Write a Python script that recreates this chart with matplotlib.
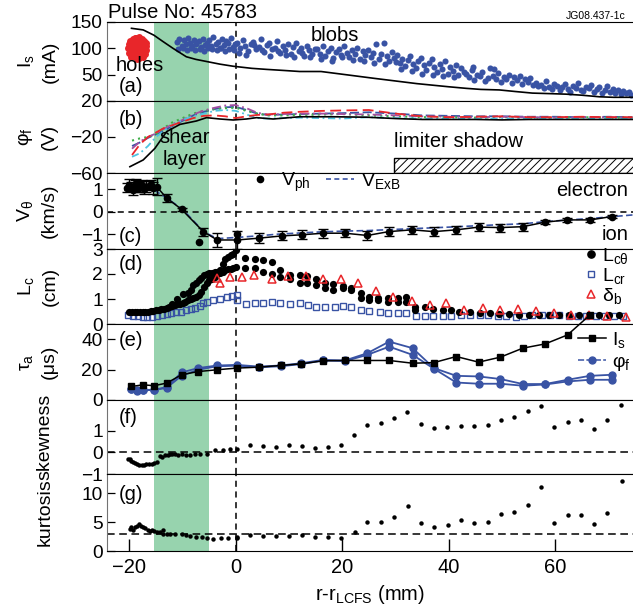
import numpy as np
import matplotlib
matplotlib.use("Agg")
import matplotlib.pyplot as plt
from matplotlib.lines import Line2D
from matplotlib.patches import Rectangle

plt.rcParams['font.family'] = ['Liberation Sans', 'DejaVu Sans']
plt.rcParams['mathtext.fontset'] = 'custom'
plt.rcParams['mathtext.rm'] = 'Liberation Sans'
plt.rcParams['mathtext.it'] = 'Liberation Sans:italic'
plt.rcParams['mathtext.bf'] = 'Liberation Sans:bold'
plt.rcParams['hatch.linewidth'] = 0.7

BLUE = '#3953a4'
RED = '#e8262a'
BAND = '#97d3ae'

shear_lo, shear_hi = -15.4, -5.1
limiter_start = 29.7

# (a) Is (mA)
is_x = [-19.6, -17.4, -15.4, -13.7, -11.8, -9.3, -7.5, -5.5, -3, -0.5, 3, 5.8, 9, 12, 16,
        21.4, 26, 30.8, 34, 37, 40, 43.3, 46, 49.5, 52.5, 55.7, 59, 62, 65, 68.3, 71, 74.5]
is_y = [138, 135, 125, 113, 100, 84, 79, 75, 70, 66, 62, 60, 58, 56, 56,
        49, 43, 37, 33, 30, 27, 24, 22, 21, 18, 15, 14, 13, 11, 8, 7, 7]

holes_x = [-20.2, -20.1, -19.9, -19.8, -19.7, -19.6, -19.5, -19.4, -19.3, -19.2, -19.1, -19.0,
           -18.9, -18.8, -18.7, -18.6, -18.5, -18.4, -18.3, -18.2, -18.1, -18.0, -17.9, -17.8,
           -17.7, -17.6, -17.5, -17.4, -17.3, -17.2, -17.1, -17.0, -16.9, -16.8, -18.5, -19.0,
           -18.2, -17.5, -19.6, -20.0, -16.9, -18.8, -17.8]
holes_y = [100, 108, 95, 114, 103, 90, 110, 98, 117, 85, 105, 93,
           112, 100, 120, 88, 107, 96, 115, 82, 103, 92, 110, 99,
           118, 87, 106, 95, 113, 101, 90, 108, 97, 104, 80, 119,
           121, 84, 84, 91, 111, 94, 115]

blob_x = ([-11.0, -10.6, -10.2, -9.8, -9.4, -9.0, -8.6, -8.2, -7.8, -7.4, -7.0, -6.6, -6.2, -5.8,
           -5.4, -5.0, -4.6, -4.2, -3.8, -3.4, -3.0, -2.6, -2.2, -1.8, -1.4, -1.0, -0.6, -0.2]
          + [-10.8, -10.0, -9.2, -8.4, -7.6, -6.8, -6.0, -5.2, -4.4, -3.6, -2.8, -2.0, -1.2, -0.4]
          + [0.3, 0.8, 1.3, 1.8, 2.3, 2.8, 3.3, 3.8, 4.3, 4.8, 5.3, 5.8, 6.3, 6.8, 7.3, 7.8, 8.3,
             8.8, 9.3, 9.8, 10.3, 10.8, 11.3, 11.8, 12.3, 12.8, 13.3, 13.8, 14.3, 14.8]
          + [0.6, 2.0, 3.5, 5.0, 6.5, 8.0, 9.5, 11.0, 12.5, 14.0]
          + [15.3, 15.8, 16.3, 16.8, 17.3, 17.8, 18.3, 18.8, 19.3, 19.8, 20.3, 20.8, 21.3, 21.8,
             22.3, 22.8, 23.3, 23.8, 24.3, 24.8, 25.3, 25.8, 26.3, 26.8, 27.3, 27.8, 28.3, 28.8,
             29.3, 29.8]
          + [16, 18, 20, 22, 24, 26, 28, 30]
          + [30.3, 30.8, 31.3, 31.8, 32.3, 32.8, 33.3, 33.8, 34.3, 34.8, 35.3, 35.8, 36.3, 36.8,
             37.3, 37.8, 38.3, 38.8, 39.3, 39.8, 40.3, 40.8, 41.3, 41.8, 42.3, 42.8]
          + [31, 33, 35, 37, 39, 41]
          + [43.3, 43.8, 44.3, 44.8, 45.3, 45.8, 46.3, 46.8, 47.3, 47.8, 48.3, 48.8, 49.3, 49.8,
             50.3, 50.8, 51.3, 51.8, 52.3, 52.8, 53.3, 53.8, 54.3, 54.8, 55.3, 55.8, 48.5, 44.5]
          + [56.3, 56.8, 57.3, 57.8, 58.3, 58.8, 59.3, 59.8, 60.3, 60.8, 61.3, 61.8, 62.3, 62.8,
             63.3, 63.8, 64.3, 64.8, 65.3, 65.8, 66.3, 66.8, 67.3, 67.8, 68.3, 68.8, 69.3, 69.8,
             70.3, 70.8, 71.3, 71.8, 72.3, 72.8, 73.3, 73.8, 74.3])
blob_y = ([112, 118, 105, 115, 108, 120, 110, 104, 116, 109, 113, 102, 118, 107,
           111, 115, 104, 121, 108, 112, 100, 117, 106, 113, 110, 119, 103, 108]
          + [98, 101, 96, 100, 97, 99, 95, 101, 98, 96, 100, 94, 99, 97]
          + [110, 100, 116, 104, 95, 108, 112, 98, 103, 117, 93, 106, 110, 99, 101, 113, 92,
             105, 97, 109, 89, 102, 111, 94, 100, 86, 104, 96, 90, 99]
          + [92, 88, 106, 97, 85, 95, 88, 84, 92, 83]
          + [98, 90, 104, 86, 95, 101, 82, 93, 99, 88, 105, 91, 84, 96,
             89, 100, 80, 94, 87, 97, 83, 92, 108, 79, 89, 111, 85, 76, 93, 82]
          + [80, 76, 83, 78, 75, 72, 70, 74]
          + [88, 72, 80, 66, 77, 85, 70, 62, 75, 82, 68, 58, 73, 79,
             64, 55, 70, 60, 76, 52, 65, 57, 68, 50, 62, 55]
          + [60, 57, 52, 49, 47, 45]
          + [52, 45, 58, 40, 50, 47, 55, 38, 44, 62, 48, 41, 53, 36,
             46, 42, 50, 34, 45, 39, 48, 33, 42, 37, 44, 31, 60, 64]
          + [35, 28, 31, 24, 38, 27, 22, 33, 29, 20, 26, 32, 23, 18,
             28, 25, 34, 21, 19, 27, 24, 30, 17, 22, 26, 15, 20, 28,
             18, 23, 16, 21, 13, 19, 15, 17, 12])

# (b) floating potential (V)
phi_x = [-19.5, -18, -16.5, -15, -13.5, -12, -10, -8, -6, -4, -2, 0, 2, 4, 6, 9, 12, 16, 20,
         25, 30, 35, 40, 45, 50, 55, 60, 65, 70, 74.5]
phi_blue = [-30, -26, -21, -17, -13, -8, -2, 4, 8, 11, 13, 13.5, 10, 6, 4.5, 5, 5.5, 6, 6.5,
            7.5, 6, 4, 3.5, 3, 3, 2.5, 2.5, 2, 2.5, 2]
phi_red = [-40, -28, -20, -15, -10, -7, -3, 1, 3.5, 4, 3, 1, 3, 4.5, 5, 7, 8, 9, 9.5,
           10, 6, 3, 2, 2.5, 3, 2, 2, 2.5, 2, 2]
phi_green = [-24, -21.5, -20, -17, -10, -4, 1, 6, 9, 11, 12, 12.5, 9, 6, 4, 4, 4.5, 5, 5.5,
             4, 3, 2, 2, 1.5, 2, 1.5, 1.5, 2, 1.5, 1.5]
phi_magenta = [-33, -25, -20, -16, -11, -6, -1, 5, 9.5, 12.5, 15, 15.5, 12, 7, 5, 5.5, 6, 6,
               5.5, 5, 4, 3, 2.5, 2, 2.5, 2, 1.5, 2, 2, 1.5]
phi_cyan = [-42, -38, -30, -20, -13, -7, -1, 3, 6, 9, 10, 9, 5, 1, 0.5, 1, 1.5, 1, 0.5,
            2, 1, 0.5, 0.5, 0, 0.5, 0, 0.5, 0, 0.5, 0]
phi_blk_x = [-19.9, -17.4, -15.2, -13, -10.5, -7.4, -5.5, -3, -0.5, 2, 3.9, 7, 12, 18.3, 24.5,
             30, 35, 40, 45, 50, 55, 60, 65, 70, 74.5]
phi_blk = [-53, -45.5, -32.6, -14, -6, -2.2, 1.5, 0, -1.1, 0, 1.5, 0, 2.5, 2.5, 2.0,
           0.5, -0.5, -0.5, -0.5, -1, -0.5, -0.5, -0.5, -0.5, -0.5]

# (c) poloidal velocity (km/s)
vph_x = [-20.4, -20.0, -19.7, -19.4, -19.0, -18.7, -18.3, -18.0, -17.6, -17.2, -16.8, -16.4,
         -16.0, -15.6, -14.9, -13.0, -10.2, -6.1, -3.5, 0.25, 4.3, 8.6, 12.4, 16.4, 20.5, 24.7,
         28.7, 33.1, 37.2, 41.4, 45.6, 49.7, 53.9, 58.1, 62.2, 66.6, 70.6]
vph_v = [1.05, 1.2, 1.1, 0.95, 1.15, 1.25, 1.05, 1.1, 1.2, 1.0, 1.1, 1.15,
         1.2, 1.05, 1.11, 0.6, 0.1, -0.89, -1.26, -1.26, -1.18, -1.08, -1.03, -0.96, -0.96, -1.06,
         -0.89, -0.81, -0.89, -0.81, -0.69, -0.71, -0.67, -0.47, -0.37, -0.37, -0.22]
vph_err = [0.2, 0.25, 0.2, 0.2, 0.25, 0.2, 0.2, 0.25, 0.2, 0.2, 0.25, 0.2,
           0.2, 0.25, 0.37, 0.18, 0.08, 0.18, 0.33, 0.4, 0.22, 0.2, 0.2, 0.2, 0.18, 0.2,
           0.2, 0.18, 0.2, 0.18, 0.18, 0.18, 0.18, 0.1, 0.1, 0.1, 0.05]
vph_extra_x = [-6.9, 0.2]
vph_extra_v = [-1.35, -0.99]
vexb_x = [-19, -16, -13, -10, -6, -3.5, 0, 4, 8, 12, 16, 20, 25, 29, 33, 37, 41, 46, 50, 54,
          58, 62, 67, 71, 74.5]
vexb_v = [1.1, 1.05, 0.6, 0.1, -0.9, -1.2, -1.15, -1.08, -1.0, -0.95, -0.9, -0.87, -0.84,
          -0.8, -0.76, -0.72, -0.68, -0.62, -0.58, -0.54, -0.45, -0.38, -0.3, -0.22, -0.15]

# (d) correlation lengths (cm)
lct_lo_x = [-20.0, -19.5, -19.0, -18.5, -18.0, -17.5, -17.0, -16.5, -16.0, -15.5, -15.0, -14.5,
            -14.0, -13.5, -13.0, -12.5, -12.0, -11.5, -11.0, -10.5, -10.0, -9.5, -9.0, -8.5,
            -8.0, -7.5, -7.0, -6.5, -6.0, -5.5, -5.0, -4.5, -4.0, -3.5, -3.0, -2.5, -2.0, -1.5,
            -1.0, -0.5, 0.0]
lct_lo = [0.48, 0.48, 0.49, 0.49, 0.5, 0.5, 0.5, 0.5, 0.52, 0.53, 0.55, 0.57,
          0.6, 0.62, 0.66, 0.7, 0.72, 0.76, 0.8, 0.82, 0.86, 0.9, 0.95, 1.0,
          1.05, 1.1, 1.15, 1.3, 1.5, 1.65, 1.75, 1.8, 1.9, 2.0, 2.05, 2.1, 2.15, 2.2,
          2.2, 2.25, 2.3]
lct_up_x = [-12, -11, -10, -9, -8.5, -8, -7.5, -7, -6.5, -6, -5.5, -5,
            -4.5, -4, -3.5, -3, -2.5, -2, -1.5, -1, -0.5, 0]
lct_up = [0.8, 1.0, 1.2, 1.25, 1.35, 1.55, 1.65, 1.75, 1.85, 1.95, 2.0, 2.05,
          2.05, 2.1, 2.1, 2.15, 2.4, 2.6, 2.7, 2.75, 2.8, 2.95]
lct_r_x = [1.7, 3.6, 5.1, 6.7, 8.3, 10.1, 12.0, 13.3, 15.1, 16.7, 18.3, 20.1, 21.7, 23.6, 25.1,
           26.7, 28.6, 30.5, 32.0, 33.6, 35.5, 37.0, 38.9, 40.5, 42.0, 43.9, 45.8, 47.7, 49.5,
           51.4, 53.2, 55.1, 57.0, 58.8, 60.7, 62.6, 64.5, 66.3, 68.2, 70.0, 72.0]
lct_r_up = [2.63, 2.59, 2.56, 2.49, 2.16, 1.96, 1.96, 1.92, 1.79, 1.63, 1.6, 1.52, 1.43, 1.23,
            1.09, 1.03, 1.05, 1.03, 1.07, 0.69, 0.69, 0.59, 0.56, 0.56, 0.49, 0.49, 0.45, 0.43,
            0.42, 0.4, 0.38, 0.37, 0.38, 0.38, 0.38, 0.38, 0.38, 0.36, 0.38, 0.36, 0.35]
lct_r_lo = [2.23, 2.25, 2.1, 2.0, 1.9, 1.8, 1.65, 1.63, 1.56, 1.45, 1.36, 1.43, 1.36, 1.03,
            0.96, 0.96, 0.89, 0.88, 0.89, 0.56]
lcr_x = [-20.2, -19.3, -18.4, -17.5, -16.6, -15.7, -14.8, -13.9, -13.0, -12.1, -11.2, -10.3,
         -9.4, -8.5, -7.6, -6.7, -6.1, -5.5, -4.3, -3.0, -1.7, -0.8, 0.2, 0.2,
         2.0, 3.6, 5.1, 6.7, 8.3, 10.1, 12.0, 13.6, 15.1, 16.7, 18.6, 20.1, 21.7, 23.6, 25.1,
         27.0, 28.6, 30.5, 32.0, 33.9, 35.5, 37.0, 38.9, 40.5, 42.3, 43.9, 45.8, 47.4, 49.2,
         50.8, 52.6, 54.2, 55.7, 57.6, 59.1, 60.7, 62.6, 64.2, 65.7, 67.6, 69.2, 71.1, 72.7]
lcr = [0.36, 0.33, 0.31, 0.3, 0.3, 0.3, 0.32, 0.35, 0.4, 0.44, 0.47, 0.5,
       0.55, 0.6, 0.64, 0.72, 0.83, 0.89, 0.96, 0.99, 1.09, 1.12, 1.16, 0.96,
       0.8, 0.85, 0.86, 0.89, 0.85, 0.8, 0.83, 0.76, 0.69, 0.69, 0.69, 0.72, 0.69, 0.56, 0.53,
       0.49, 0.45, 0.45, 0.43, 0.33, 0.33, 0.33, 0.33, 0.33, 0.35, 0.35, 0.35, 0.36, 0.33,
       0.33, 0.3, 0.33, 0.36, 0.36, 0.36, 0.36, 0.33, 0.33, 0.33, 0.33, 0.33, 0.33, 0.33]
db_x = [-3.6, -2.9, -1.1, 1.1, 3.4, 6.7, 9.8, 13.2, 16.4, 19.7, 23.0, 26.3, 29.6, 33.0, 36.4,
        39.5, 42.9, 46.4, 49.7, 53.0, 56.4, 59.7, 63.0, 66.3, 69.7, 73.2]
db = [1.83, 1.63, 1.87, 1.87, 1.96, 1.8, 1.92, 1.94, 1.79, 1.79, 1.65, 1.33, 1.09, 0.92, 0.76,
      0.85, 0.56, 0.63, 0.56, 0.59, 0.53, 0.43, 0.36, 0.36, 0.33, 0.29]

# (e) autocorrelation time (us)
tau_x = [-19.6, -17.4, -15.4, -13, -10.2, -7.1, -3.5, 0.2, 4.3, 8.4, 12.3, 16.4, 20.5, 24.7,
         28.8, 33.2, 37.2, 41.4, 45.6, 49.7, 53.9, 58.1, 62.3, 66.5]
tau_is = [8.9, 10.0, 9.4, 11.1, 16.6, 18.7, 19.9, 21.0, 21.6, 22.7, 23.8, 25.8, 26.0, 26.0,
          26.0, 24.2, 24.6, 28.6, 24.9, 28.2, 34.1, 36.9, 42.8, 55.9]
tau_phi_x = [-19.6, -18.6, -17.4, -15.4, -13, -10.2, -7.1, -3.5, 0.2, 4.3, 8.4, 12.3, 16.4,
             20.5, 24.7, 28.8, 33.2, 37.2, 41.4, 45.6, 49.7, 53.9, 58.1, 62.3, 66.5, 70.6]
tau_phi1 = [7.2, 6.3, 6.7, 6.7, 8.5, 18.1, 21.0, 22.7, 23.1, 22.0, 22.7, 24.2, 26.4,
            26.0, 30.8, 38.4, 34.1, 21.0, 15.9, 15.5, 13.8, 10.5, 10.5, 13.3, 15.9, 16.6]
tau_phi2 = [7.0, 6.0, 6.5, 6.5, 8.0, 15.9, 19.9, 22.2, 22.6, 21.5, 22.2, 23.6, 26.0,
            25.6, 29.7, 35.1, 29.7, 20.6, 11.5, 10.7, 10.7, 9.4, 10.2, 12.2, 13.3, 13.3]

# (f) skewness, (g) kurtosis
sk_x = [-20.2, -19.9, -19.6, -19.3, -19.0, -18.6, -18.2, -17.7, -17.3, -16.8, -16.3, -15.8,
        -15.3, -14.9, -14.3, -13.8, -13.3, -12.8, -12.4, -11.9, -11.4, -10.8, -10.2, -9.4,
        -8.6, -7.7, -6.8, -5.5, -3.9, -2.4, -1.1, 0.2,
        2.6, 5.1, 7.6, 10.0, 12.5, 14.8, 17.3, 19.8, 22.2, 24.7, 27.2, 29.7, 32.2, 34.8, 37.2,
        39.7, 42.3, 44.8, 47.3, 49.8, 52.3, 54.8, 57.3, 59.8, 62.3, 64.8, 67.3, 69.8, 72.3]
skew = [-0.3, -0.29, -0.38, -0.45, -0.5, -0.56, -0.6, -0.6, -0.58, -0.56, -0.55, -0.53,
        -0.5, -0.45, -0.19, -0.2, -0.14, -0.1, -0.06, -0.08, -0.09, -0.1, -0.09, -0.12,
        -0.14, -0.09, -0.06, -0.06, 0.09, 0.12, 0.17, 0.17,
        0.33, 0.28, 0.25, 0.33, 0.3, 0.2, 0.25, 0.36, 0.78, 1.26, 1.36, 1.57, 1.87, 1.29, 1.13,
        1.16, 1.21, 1.22, 1.26, 1.49, 1.64, 1.91, 2.14, 1.15, 1.41, 1.49, 1.1, 1.49, 2.19]
ku_x = [-19.8, -19.6, -19.3, -19.0, -18.6, -18.2, -17.8, -17.4, -17.0, -16.5, -16.1, -15.7,
        -15.3, -14.9, -14.3, -13.7, -13.7, -13.0, -12.4, -11.5, -10.2, -9.4, -8.6, -7.4, -6.4,
        -5.5, -4.3, -2.7, -1.4, 0.2, 0.2,
        2.6, 5.1, 7.5, 10.0, 12.5, 14.8, 17.3, 19.8, 22.3, 24.7, 27.2, 29.7, 32.3, 34.8, 37.3,
        39.8, 42.3, 44.8, 47.3, 49.8, 52.3, 54.8, 57.3, 59.8, 62.3, 64.8, 67.3, 69.8, 72.5]
kurt = [3.8, 4.1, 3.6, 4.2, 4.3, 4.6, 4.4, 4.2, 3.9, 3.6, 3.5, 3.7,
        3.4, 3.3, 3.2, 3.6, 3.0, 3.0, 3.0, 3.0, 2.9, 2.8, 2.6, 2.4, 2.4,
        2.2, 2.0, 2.2, 2.2, 2.2, 2.5,
        2.8, 2.6, 2.6, 2.6, 2.8, 2.4, 2.4, 2.2, 3.3, 5.0, 5.0, 5.8, 7.8, 4.9, 4.2,
        4.5, 5.3, 4.9, 5.0, 6.4, 6.7, 8.0, 11.0, 4.9, 6.3, 6.2, 4.6, 6.6, 12.1]

fig = plt.figure(figsize=(6.33, 6.10), dpi=100)
gs = fig.add_gridspec(7, 1, height_ratios=[79, 72, 76, 75, 76, 74, 77],
                      left=107 / 633, right=1.0, top=1 - 22 / 610, bottom=1 - 551 / 610,
                      hspace=0)
axs = [fig.add_subplot(gs[0])]
for i in range(1, 7):
    axs.append(fig.add_subplot(gs[i], sharex=axs[0]))

ylims = [(0, 150), (-60, 20), (-1.66, 1.71), (0, 3), (0, 50), (-1, 2.42), (0, 13.3)]
yticks = [[50, 100, 150], [-60, -20, 20], [-1, 0, 1], [0, 1, 2, 3], [0, 20, 40],
          [-1, 0, 1], [0, 5, 10]]
labels = ['(a)', '(b)', '(c)', '(d)', '(e)', '(f)', '(g)']
label_y = [0.18, 0.74, 0.16, 0.79, 0.78, 0.77, 0.73]
ylabels = ['I$_\\mathrm{s}$\n(mA)', 'φ$_\\mathrm{f}$\n(V)', 'V$_\\mathrm{θ}$\n(km/s)',
           'L$_\\mathrm{c}$\n(cm)', 'τ$_\\mathrm{a}$\n(μs)', 'skewness', 'kurtosis']
ylabel_x = [37, 37, 36, 37, 38, 45, 45]

for i, ax in enumerate(axs):
    ax.set_xlim(-24.2, 74.6)
    ax.set_ylim(*ylims[i])
    ax.set_yticks(yticks[i])
    ax.axvspan(shear_lo, shear_hi, color=BAND, lw=0, zorder=0)
    ax.axvline(0, color='k', ls=(0, (4, 3)), lw=1.1, zorder=1)
    ax.spines['right'].set_visible(False)
    ax.spines['left'].set_color('0.45')
    ax.tick_params(axis='y', direction='in', length=6, width=0.9, labelsize=13.8, pad=3)
    ax.tick_params(axis='x', direction='in', length=0, labelbottom=False)
    ax.text(0.023, label_y[i], labels[i], transform=ax.transAxes, va='center',
            fontsize=14.5)
    ax.set_ylabel(ylabels[i], fontsize=14, linespacing=1.45, va='center', ha='center')
    ax.yaxis.set_label_coords((ylabel_x[i] - 107) / 526, 0.5)

# (a)
ax = axs[0]
ax.plot(holes_x, holes_y, 'o', color=RED, ms=5, mew=0, zorder=3)
ax.plot(blob_x, blob_y, 'o', color=BLUE, ms=4.4, mew=0, zorder=3)
ax.plot(is_x, is_y, 'k-', lw=1.2, zorder=4)
ax.text(-18.0, 68, 'holes', ha='center', va='center', fontsize=14.5, zorder=5)
ax.text(18.6, 124, 'blobs', ha='center', va='center', fontsize=14.5)

# (b)
ax = axs[1]
ax.plot(phi_x, phi_blue, color=BLUE, ls=(0, (5, 2)), lw=1.3)
ax.plot(phi_x, phi_green, color='#3fae49', ls=(0, (1, 2)), lw=1.5)
ax.plot(phi_x, phi_magenta, color='#a34fa0', ls=(0, (5, 2, 1, 2)), lw=1.3)
ax.plot(phi_x, phi_cyan, color='#4dc3e0', ls=(0, (4, 2, 1, 2)), lw=1.3)
ax.plot(phi_x, phi_red, color=RED, ls=(0, (6, 3)), lw=1.3)
ax.plot(phi_blk_x, phi_blk, 'k-', lw=1.2)
ax.text(-9.6, -32.8, 'shear\nlayer', ha='center', va='center', fontsize=14.5,
        linespacing=1.25)
ax.text(limiter_start, -25, 'limiter shadow', ha='left', va='center', fontsize=14.5)
ax.add_patch(Rectangle((limiter_start, -60), 80, 16.3, fill=False, hatch='////',
                       lw=1.0, edgecolor='k'))

# (c)
ax = axs[2]
ax.axhline(0, color='k', ls=(0, (4, 3)), lw=1.1)
ax.plot(vexb_x, vexb_v, color=BLUE, ls=(0, (4, 2)), lw=1.2)
ax.errorbar(vph_x, vph_v, yerr=vph_err, fmt='o-', color='k', ms=4.5, lw=1.1,
            elinewidth=1.0, capsize=3.5, capthick=1.0)
ax.plot(vph_extra_x, vph_extra_v, 'o', color='k', ms=4.5)
h1 = Line2D([], [], color='k', marker='o', ls='none', ms=4.5)
h2 = Line2D([], [], color=BLUE, ls=(0, (3, 2)), lw=1.2)
ax.legend([h1, h2], ['V$_\\mathrm{ph}$', 'V$_\\mathrm{ExB}$'], ncol=2, loc='center left',
          bbox_to_anchor=(0.265, 0.88), frameon=False, fontsize=14, handlelength=1.4,
          handletextpad=0.4, columnspacing=0.8, borderpad=0, borderaxespad=0)
ax.text(73.7, 0.94, 'electron', ha='right', va='center', fontsize=14.5)
ax.text(73.7, -1.01, 'ion', ha='right', va='center', fontsize=14.5)

# (d)
ax = axs[3]
ax.plot(lcr_x, lcr, 's', mfc='none', mec=BLUE, ms=4.5, mew=1.0)
ax.plot(lct_lo_x, lct_lo, 'o', color='k', ms=5.2, mew=0)
ax.plot(lct_up_x, lct_up, 'o', color='k', ms=5.2, mew=0)
ax.plot(lct_r_x, lct_r_up, 'o', color='k', ms=5.2, mew=0)
ax.plot(lct_r_x[:len(lct_r_lo)], lct_r_lo, 'o', color='k', ms=5.2, mew=0)
ax.plot(db_x, db, '^', mfc='none', mec=RED, ms=5.2, mew=1.1)
hd = [Line2D([], [], color='k', marker='o', ls='none', ms=5.2),
      Line2D([], [], marker='s', mfc='none', mec=BLUE, ls='none', ms=4.5),
      Line2D([], [], marker='^', mfc='none', mec=RED, ls='none', ms=5.2, mew=1.1)]
ax.legend(hd, ['L$_\\mathrm{cθ}$', 'L$_\\mathrm{cr}$', 'δ$_\\mathrm{b}$'], loc='center left',
          bbox_to_anchor=(0.91, 0.64), frameon=False, fontsize=14, handlelength=0.6,
          handletextpad=0.25, labelspacing=0.0, borderpad=0, borderaxespad=0)

# (e)
ax = axs[4]
ax.plot(tau_phi_x, tau_phi1, 'o-', color=BLUE, ms=5, lw=1.3)
ax.plot(tau_phi_x, tau_phi2, 'o-', color=BLUE, ms=5, lw=1.3)
ax.plot(tau_x, tau_is, 's-', color='k', ms=4.5, lw=1.1, clip_on=False, zorder=3)
he = [Line2D([], [], color='k', marker='s', ms=4.5, lw=1.1),
      Line2D([], [], color=BLUE, marker='o', ms=5, lw=1.1, ls=(0, (4, 1.5)))]
ax.legend(he, ['I$_\\mathrm{s}$', 'φ$_\\mathrm{f}$'], loc='center left',
          bbox_to_anchor=(0.895, 0.64), frameon=False, fontsize=14, handlelength=1.45,
          handletextpad=0.3, labelspacing=0.15, borderpad=0, borderaxespad=0)

# (f)
ax = axs[5]
ax.axhline(0, color='k', ls=(0, (5, 3)), lw=1.1)
ax.plot(sk_x, skew, 'o', color='k', ms=3.2, mew=0)

# (g)
ax = axs[6]
ax.axhline(3, color='k', ls=(0, (5, 3)), lw=1.1)
ax.plot(ku_x, kurt, 'o', color='k', ms=3.2, mew=0)
ax.set_xticks([-20, 0, 20, 40, 60])
ax.tick_params(axis='x', direction='in', length=9, width=1.0, labelbottom=True,
               labelsize=14.5, pad=5)
ax.set_xlabel('r-r$_\\mathrm{LCFS}$ (mm)', fontsize=14.5, labelpad=4)

fig.text(108 / 633, 1 - 18 / 610, 'Pulse No: 45783', fontsize=14.5, va='baseline')
fig.text(566 / 633, 1 - 19 / 610, 'JG08.437-1c', fontsize=7.5, va='baseline')

fig.savefig('out.png', dpi=100)
